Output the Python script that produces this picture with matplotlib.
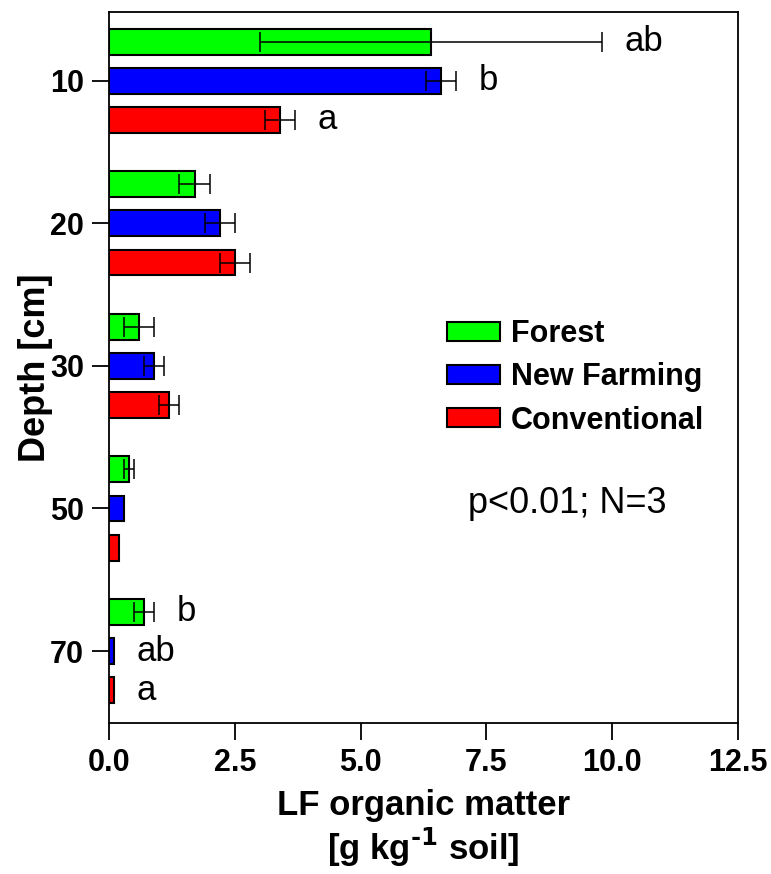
import matplotlib
matplotlib.use("Agg")
import numpy as np
import matplotlib.pyplot as plt
from matplotlib.patches import Patch

depths = ["10", "20", "30", "50", "70"]
systems = ["Forest", "New Farming", "Conventional"]
colors = ["#00ff00", "#0000ff", "#ff0000"]

forest = [6.4, 1.7, 0.6, 0.4, 0.7]
forest_err = [3.4, 0.3, 0.3, 0.1, 0.2]
new_farming = [6.6, 2.2, 0.9, 0.3, 0.1]
new_farming_err = [0.3, 0.3, 0.2, 0.0, 0.0]
conventional = [3.4, 2.5, 1.2, 0.2, 0.1]
conventional_err = [0.3, 0.3, 0.2, 0.0, 0.0]

# significance letters (depth index, system index, letter)
letters = [(0, 0, "ab"), (0, 1, "b"), (0, 2, "a"),
           (4, 0, "b"), (4, 1, "ab"), (4, 2, "a")]

narrow = ["Liberation Sans Narrow", "Liberation Sans", "DejaVu Sans"]
plt.rcParams["font.family"] = ["Liberation Sans", "DejaVu Sans"]
plt.rcParams["mathtext.fontset"] = "custom"
plt.rcParams["mathtext.bf"] = "Liberation Sans Narrow:bold"
plt.rcParams["mathtext.rm"] = "Liberation Sans Narrow:bold"

fig = plt.figure(figsize=(7.71, 8.74), dpi=100)
ax = fig.add_axes([0.1414, 0.1728, 0.8158, 0.8135])

values = [forest, new_farming, conventional]
errors = [forest_err, new_farming_err, conventional_err]
y = np.arange(len(depths))
offset = 0.274
height = 0.182

for k in range(3):
    ypos = y + (k - 1) * offset
    ax.barh(ypos, values[k], height=height, color=colors[k],
            edgecolor="black", linewidth=1.5, zorder=2)
    for yy, v, e in zip(ypos, values[k], errors[k]):
        if e > 0:
            ax.errorbar(v, yy, xerr=e, fmt="none", ecolor="black",
                        elinewidth=1.1, capsize=7, capthick=1.1, zorder=3)

for d, k, txt in letters:
    v = values[k][d]
    e = errors[k][d]
    ax.text(v + e + 0.45, y[d] + (k - 1) * offset, txt, fontsize=25,
            ha="left", va="center")

ax.set_xlim(0, 12.5)
ax.set_ylim(4.505, -0.484)
ax.set_xticks([0, 2.5, 5.0, 7.5, 10.0, 12.5])
ax.set_xticklabels(["0.0", "2.5", "5.0", "7.5", "10.0", "12.5"])
ax.set_yticks(y)
ax.set_yticklabels(depths)
for lab in ax.get_xticklabels() + ax.get_yticklabels():
    lab.set_family(narrow)
    lab.set_fontweight("bold")
    lab.set_fontsize(22)
ax.tick_params(direction="out", length=12, width=1.3, pad=6)
for s in ax.spines.values():
    s.set_linewidth(1.3)

ax.set_ylabel("Depth [cm]", family=narrow, fontweight="bold", fontsize=26,
              labelpad=-2)
ax.set_xlabel("LF organic matter\n" + r"[g kg$^{\text{-}1}$ soil]",
              family=narrow, fontweight="bold", fontsize=25,
              linespacing=1.12, labelpad=8)

handles = [Patch(facecolor=c, edgecolor="black", linewidth=1.5) for c in colors]
ax.legend(handles, systems, loc="upper left", bbox_to_anchor=(0.5175, 0.585),
          frameon=False, prop={"weight": "bold", "size": 22},
          handlelength=1.75, handleheight=0.6, labelspacing=0.43,
          handletextpad=0.36, borderaxespad=0)

ax.text(0.729, 0.308, "p<0.01; N=3", transform=ax.transAxes, fontsize=26,
        ha="center", va="center")

fig.savefig("out.png", dpi=100)
